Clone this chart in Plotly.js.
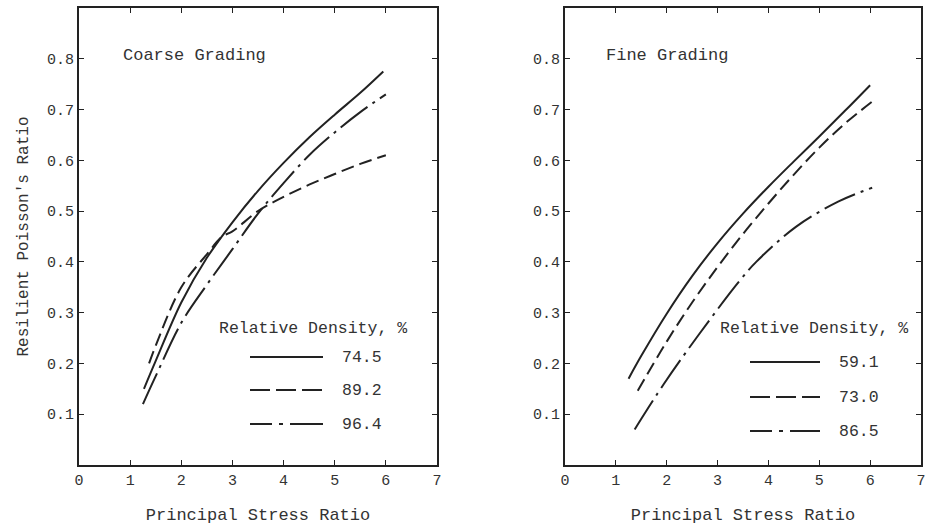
<!DOCTYPE html>
<html>
<head>
<meta charset="utf-8">
<script src="https://cdn.plot.ly/plotly-3.0.1.min.js"></script>
<style>html,body{margin:0;padding:0;background:#fff;}#chart{width:928px;height:527px;}</style>
</head>
<body>
<div id="chart"></div>
<script>
// ---- data ----
const xTickVals = [0, 1, 2, 3, 4, 5, 6, 7];
const yTickVals = [0.1, 0.2, 0.3, 0.4, 0.5, 0.6, 0.7, 0.8];
const yTickText = ["0.1", "0.2", "0.3", "0.4", "0.5", "0.6", "0.7", "0.8"];

// Coarse grading
const coarse745X = [1.27, 1.5, 2, 2.5, 3, 3.5, 4, 4.5, 5, 5.5, 5.95];
const coarse745Y = [0.15, 0.205, 0.32, 0.408, 0.478, 0.54, 0.595, 0.645, 0.69, 0.733, 0.775];
const coarse892X = [1.37, 1.5, 2, 2.5, 2.8, 3, 3.5, 4, 4.5, 5, 5.5, 6];
const coarse892Y = [0.20, 0.235, 0.35, 0.415, 0.45, 0.46, 0.50, 0.528, 0.552, 0.573, 0.593, 0.61];
const coarse964X = [1.25, 1.5, 2, 2.5, 3, 3.5, 4, 4.5, 5, 5.5, 6];
const coarse964Y = [0.12, 0.175, 0.28, 0.355, 0.425, 0.495, 0.555, 0.61, 0.655, 0.695, 0.73];

// Fine grading
const fine591X = [1.25, 1.5, 2, 2.5, 3, 3.5, 4, 4.5, 5, 5.5, 6.0];
const fine591Y = [0.17, 0.215, 0.298, 0.372, 0.437, 0.495, 0.548, 0.598, 0.647, 0.697, 0.748];
const fine730X = [1.43, 2, 2.5, 3, 3.5, 4, 4.5, 5, 5.5, 6.07];
const fine730Y = [0.146, 0.243, 0.32, 0.39, 0.455, 0.515, 0.572, 0.625, 0.672, 0.718];
const fine865X = [1.37, 1.94, 2.64, 3.42, 3.76, 4.54, 5.38, 6.04];
const fine865Y = [0.07, 0.159, 0.258, 0.361, 0.40, 0.469, 0.519, 0.546];

const coarseLabels = ["74.5", "89.2", "96.4"];
const fineLabels = ["59.1", "73.0", "86.5"];
const legendTitle = "Relative Density, %";

// ---- styles ----
const INK = "#222";
const TXT = "#333";
const FONT = "Liberation Mono, DejaVu Sans Mono, monospace";
const DASHES = ["solid", "13px,6px", "34px,6px,3px,6px"];
const KEY_DASHES = ["solid", "20px,6px", "22px,7px,4px,7px,60px"];
const LW = 2;

function tr(x, y, i, xa, ya) {
  return {x: x, y: y, xaxis: xa, yaxis: ya, type: "scatter", mode: "lines",
    line: {color: INK, width: LW, dash: DASHES[i], shape: "spline", smoothing: 1},
    hoverinfo: "skip", showlegend: false};
}

const data = [
  tr(coarse745X, coarse745Y, 0, "x", "y"),
  tr(coarse892X, coarse892Y, 1, "x", "y"),
  tr(coarse964X, coarse964Y, 2, "x", "y"),
  tr(fine591X, fine591Y, 0, "x2", "y2"),
  tr(fine730X, fine730Y, 1, "x2", "y2"),
  tr(fine865X, fine865Y, 2, "x2", "y2")
];

function xax(domain) {
  return {domain: domain, range: [0, 7], tickvals: xTickVals, ticktext: xTickVals.map(String),
    ticks: "inside", ticklen: 5, tickwidth: 1, tickcolor: INK,
    showline: true, linewidth: 2, linecolor: INK, mirror: "ticks",
    showgrid: false, zeroline: false, fixedrange: true, ticklabeloverflow: "allow",
    tickfont: {family: FONT, size: 15, color: TXT},
    title: {text: "Principal Stress Ratio", font: {family: FONT, size: 17, color: TXT}, standoff: 19}};
}
function yax(domain, anchor, withTitle) {
  const a = {domain: domain, anchor: anchor, range: [0, 0.9], tickvals: yTickVals, ticktext: yTickText,
    ticks: "inside", ticklen: 5, tickwidth: 1, tickcolor: INK,
    showline: true, linewidth: 2, linecolor: INK, mirror: "ticks",
    showgrid: false, zeroline: false, fixedrange: true,
    tickfont: {family: FONT, size: 15, color: TXT}};
  if (withTitle) a.title = {text: "Resilient Poisson's Ratio", font: {family: FONT, size: 16, color: TXT}, standoff: 14};
  return a;
}

const W = 928, H = 527;
const px = v => v / W, py = v => 1 - v / H;

const shapes = [];
const annotations = [];
function legend(x0, x1, ys, labelX, titleX, titleY, labels) {
  annotations.push({xref: "paper", yref: "paper", x: px(titleX), y: py(titleY), text: legendTitle,
    showarrow: false, xanchor: "center", yanchor: "middle", font: {family: FONT, size: 16.5, color: TXT}});
  for (let i = 0; i < 3; i++) {
    shapes.push({type: "line", xref: "paper", yref: "paper", x0: px(x0), x1: px(x1), y0: py(ys[i]), y1: py(ys[i]),
      line: {color: INK, width: LW, dash: KEY_DASHES[i]}});
    annotations.push({xref: "paper", yref: "paper", x: px(labelX), y: py(ys[i]), text: labels[i],
      showarrow: false, xanchor: "left", yanchor: "middle", font: {family: FONT, size: 16.5, color: TXT}});
  }
}
legend(250, 323, [357, 390, 424], 340, 313, 328, coarseLabels);
legend(750, 820, [362, 397, 431], 837, 814, 328, fineLabels);

annotations.push({xref: "paper", yref: "paper", x: px(121), y: py(55), text: "Coarse Grading", showarrow: false,
  xanchor: "left", yanchor: "middle", font: {family: FONT, size: 17, color: TXT}});
annotations.push({xref: "paper", yref: "paper", x: px(604), y: py(56), text: "Fine Grading", showarrow: false,
  xanchor: "left", yanchor: "middle", font: {family: FONT, size: 17, color: TXT}});

const yDom = [py(465), py(8)];
const layout = {
  width: W, height: H, margin: {l: 0, r: 0, t: 0, b: 0},
  paper_bgcolor: "#fff", plot_bgcolor: "#fff", showlegend: false,
  xaxis: Object.assign(xax([px(79), px(437)]), {anchor: "y"}),
  yaxis: yax(yDom, "x", true),
  xaxis2: Object.assign(xax([px(565), px(921)]), {anchor: "y2"}),
  yaxis2: yax(yDom, "x2", false),
  shapes: shapes, annotations: annotations
};

Plotly.newPlot("chart", data, layout, {staticPlot: true, displayModeBar: false});
</script>
</body>
</html>
